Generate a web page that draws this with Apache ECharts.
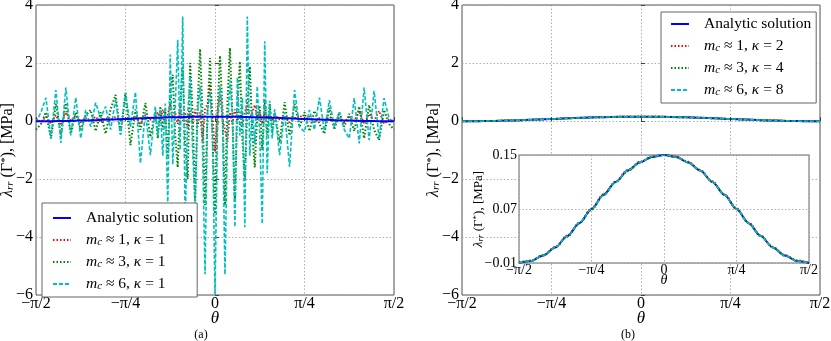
<!DOCTYPE html>
<html><head><meta charset="utf-8">
<script src="https://cdn.jsdelivr.net/npm/echarts@6/dist/echarts.min.js"></script>
<style>html,body{margin:0;padding:0;background:#fff}#c{width:831px;height:341px}</style>
</head><body><div id="c"></div>
<script>
// ---- data (theta in degrees; axis labels shown as multiples of pi) ----
const thetaA = [-90,-87.5,-85,-82.5,-80,-77.5,-75,-72.5,-70,-67.5,-65,-62.5,-60,-57.5,-55,-52.5,-50,-47.5,-45,-42.5,-40,-37.5,-35,-32.5,
  -30,-28.75,-27.5,-26.25,-25,-23.75,-22.5,-21.25,-20,-18.75,-17.5,-16.25,-15,-13.75,-12.5,-11.25,-10,-8.75,-7.5,-6.25,-5,-3.75,-2.5,-1.25,
  0,1.25,2.5,3.75,5,6.25,7.5,8.75,10,11.25,12.5,13.75,15,16.25,17.5,18.75,20,21.25,22.5,23.75,25,26.25,27.5,28.75,30,
  32.5,35,37.5,40,42.5,45,47.5,50,52.5,55,57.5,60,62.5,65,67.5,70,72.5,75,77.5,80,82.5,85,87.5,90];
const redA = [0.1,-0.05,0.15,-0.1,0.2,-0.15,0.3,0.0,0.2,-0.05,0.1,0.0,0.15,-0.05,0.12,0.0,0.15,0.02,0.1,0.05,0.15,-0.1,0.2,0.05,
  0.1,0.3,0.0,0.4,0.1,0.2,0.61,0.1,0.3,-0.1,0.55,0.0,0.3,-0.3,0.35,-0.1,0.4,-0.2,0.3,-0.72,0.4,0.6,1.27,0.2,
  -1.06,0.3,0.92,0.1,-0.3,-0.72,0.3,-0.1,0.4,0.0,0.3,-0.2,0.3,0.61,0.1,0.3,0.55,0.1,0.3,-0.1,0.3,0.1,0.2,0.0,0.2,
  0.05,0.15,-0.05,0.1,0.2,0.05,0.15,-0.05,0.1,0.0,0.15,0.0,0.1,-0.05,0.15,0.0,0.35,-0.1,0.25,0.0,0.35,-0.1,0.05,0.0];
const greenA = [-0.3,-0.1,0.3,-0.6,0.6,-0.48,0.62,-0.44,0.3,-0.3,0.2,0.38,-0.35,0.3,-0.44,0.4,0.9,-0.44,0.97,-0.83,0.4,-0.3,0.62,-0.55,
  0.3,-0.6,0.5,-0.3,0.4,-1.3,1.0,1.6,-0.5,-1.6,0.6,1.88,-0.8,-2.0,2.0,0.3,-2.85,0.5,2.48,0.2,-2.9,0.3,2.17,-0.5,
  -3.2,0.3,2.25,0.4,-2.9,0.6,2.52,0.2,-2.8,0.5,2.05,-0.6,-2.0,0.5,1.88,-0.4,-1.6,0.3,0.5,-1.0,0.75,-0.5,0.6,-0.4,0.3,
  -0.75,0.65,-0.5,0.6,-0.2,0.3,-0.35,0.35,-0.1,-0.44,0.45,-0.3,0.3,-0.2,0.25,-0.35,0.5,-0.6,0.55,-0.3,-0.66,0.38,-0.1,-0.3];
const cyanA = [-0.05,0.3,0.8,-0.6,1.07,-0.76,1.15,-0.5,0.81,-0.6,0.38,-0.2,0.63,0.1,0.5,-0.3,0.73,-0.48,0.96,-0.2,1.0,-1.46,0.3,-1.18,
  0.5,-0.5,0.4,-1.2,0.6,-2.9,2.29,-1.5,0.5,2.8,-1.0,3.6,-3.5,0.2,1.54,-1.0,-2.9,0.3,1.2,-1.0,-5.28,0.4,1.0,-0.5,
  -6.0,-0.3,1.2,0.3,-5.3,-0.5,1.4,0.2,-3.66,1.5,-0.5,0.8,-3.66,3.6,-1.2,0.4,-0.8,1.2,-0.5,-3.55,2.75,-1.8,0.7,-0.6,0.4,
  -1.18,0.3,-1.58,1.07,-0.2,-0.37,0.38,-0.3,0.81,-0.35,0.72,-0.2,0.3,-0.3,-0.6,0.79,-0.77,1.15,-0.66,1.04,-0.6,0.79,0.1,-0.1];

const thetaS = [-90,-82.5,-75,-67.5,-60,-52.5,-45,-37.5,-30,-22.5,-15,-7.5,0,7.5,15,22.5,30,37.5,45,52.5,60,67.5,75,82.5,90];
const analytic = [-0.010,-0.007,0.001,0.013,0.030,0.049,0.070,0.091,0.110,0.127,0.139,0.147,0.150,0.147,0.139,0.127,0.110,0.091,0.070,0.049,0.030,0.013,0.001,-0.007,-0.010];
const redB   = [-0.010,-0.006,0.001,0.014,0.031,0.050,0.071,0.092,0.111,0.128,0.140,0.148,0.151,0.148,0.139,0.128,0.110,0.092,0.070,0.050,0.031,0.013,0.002,-0.007,-0.010];
const greenB = [-0.009,-0.007,0.002,0.013,0.029,0.049,0.069,0.091,0.110,0.126,0.139,0.147,0.150,0.147,0.140,0.127,0.111,0.091,0.071,0.049,0.030,0.014,0.001,-0.006,-0.010];
const cyanB  = [-0.010,-0.007,0.001,0.013,0.030,0.050,0.070,0.090,0.110,0.127,0.139,0.148,0.150,0.147,0.139,0.127,0.110,0.091,0.070,0.049,0.030,0.013,0.001,-0.007,-0.010];

const xTicks = [-90,-45,0,45,90];
const xTickLabels = ['−π/2','−π/4','0','π/4','π/2'];
const insetYTicks = [-0.01,0.07,0.15];

// ---- chart ----
const serif = '"Liberation Serif","DejaVu Serif",serif';
const COL = {blue:'#0000ff', red:'#ff0000', green:'#008000', cyan:'#00bfbf'};
const pair = (xs, ys) => xs.map((x, i) => [x, ys[i]]);
const piFmt = v => { const k = xTicks.indexOf(v); return k < 0 ? '' : xTickLabels[k]; };
const minusFmt = v => v < 0 ? '−' + (-v) : String(v);
const insetFmt = v => (v < 0 ? '−' : '') + Math.abs(v).toFixed(2);
const splitLine = {show:true, lineStyle:{color:'#9a9a9a', width:0.8, type:[1.5,2]}};
const tick = {show:true, inside:true, length:4, lineStyle:{color:'#444', width:1}};

function richSet(fs){
  return {
    i:{fontFamily:serif, fontStyle:'italic', fontSize:fs, color:'#000'},
    s:{fontFamily:serif, fontStyle:'italic', fontSize:Math.round(fs*0.68), color:'#000', verticalAlign:'bottom', lineHeight:4},
    p:{fontFamily:serif, fontSize:Math.round(fs*0.68), color:'#000', verticalAlign:'top', lineHeight:4},
    g:{width:10}
  };
}
const yName = '{i|λ}{s|rr} (Γ{p|*}), [MPa]';

function mainX(gi){
  return {type:'value', gridIndex:gi, min:-90, max:90, interval:45,
    axisLine:{show:false}, axisTick:tick, splitLine:splitLine,
    axisLabel:{formatter:piFmt, fontFamily:serif, fontSize:16, color:'#000', margin:1},
    name:'θ', nameLocation:'middle', nameGap:15, nameMoveOverlap:false,
    nameTextStyle:{fontFamily:serif, fontStyle:'italic', fontSize:17, color:'#000'}};
}
function mainY(gi){
  return {type:'value', gridIndex:gi, min:-6, max:4, interval:2,
    axisLine:{show:false}, axisTick:tick, splitLine:splitLine,
    axisLabel:{formatter:minusFmt, fontFamily:serif, fontSize:16, color:'#000', margin:3},
    name:yName, nameLocation:'middle', nameRotate:90, nameGap:20, nameMoveOverlap:false,
    nameTextStyle:{fontFamily:serif, fontSize:16, color:'#000', rich:richSet(16)}};
}

const legendNames = {
  aAn:'{g| }Analytic solution', aR:'{g| }{i|m}{s|c} ≈ 1, {i|κ} = 1', aG:'{g| }{i|m}{s|c} ≈ 3, {i|κ} = 1', aC:'{g| }{i|m}{s|c} ≈ 6, {i|κ} = 1',
  bAn:'{g| }Analytic solution', bR:'{g| }{i|m}{s|c} ≈ 1, {i|κ} = 2', bG:'{g| }{i|m}{s|c} ≈ 3, {i|κ} = 4', bC:'{g| }{i|m}{s|c} ≈ 6, {i|κ} = 8'
};
const legendBase = {orient:'vertical', itemWidth:18, itemHeight:14, itemGap:6, selectedMode:false,
  backgroundColor:'#fff', borderColor:'#666', borderWidth:1, borderRadius:0,
  itemStyle:{opacity:0, borderWidth:0},
  formatter: n => legendNames[n],
  textStyle:{fontFamily:serif, fontSize:15.5, color:'#000', rich:richSet(15.5)}};

const styles = {
  An:{color:COL.blue, width:2, type:'solid'},
  R:{color:COL.red, width:1.8, type:[1.5,2]},
  G:{color:COL.green, width:2, type:[1.5,2]},
  C:{color:COL.cyan, width:1.6, type:[4,2]}
};
function line(name, gi, data, st, z, smooth){
  return {name, type:'line', xAxisIndex:gi, yAxisIndex:gi, data, symbol:'none', showSymbol:false,
    lineStyle:st, itemStyle:{color:st.color}, z:z, smooth:smooth?0.3:false, smoothMonotone:'x',
    animation:false, clip:true};
}

const option = {
  animation:false,
  backgroundColor:'#fff',
  grid:[
    {left:36, top:5, width:358, height:290, show:true, borderColor:'#555', borderWidth:1, backgroundColor:'transparent', outerBoundsMode:'none', containLabel:false},
    {left:462, top:5, width:358, height:290, show:true, borderColor:'#555', borderWidth:1, backgroundColor:'transparent', outerBoundsMode:'none', containLabel:false},
    {left:519, top:155, width:290, height:108, show:true, borderColor:'#9a9a9a', borderWidth:1.5, backgroundColor:'#fff', z:10, outerBoundsMode:'none', containLabel:false}
  ],
  xAxis:[ mainX(0), mainX(1),
    {type:'value', gridIndex:2, min:-90, max:90, interval:45, z:11,
     axisLine:{show:false}, axisTick:{show:false}, splitLine:splitLine,
     axisLabel:{formatter:piFmt, fontFamily:serif, fontSize:14, color:'#000', margin:0},
     name:'θ', nameLocation:'middle', nameGap:10, nameMoveOverlap:false,
     nameTextStyle:{fontFamily:serif, fontStyle:'italic', fontSize:14, color:'#000'}}
  ],
  yAxis:[ mainY(0), mainY(1),
    {type:'value', gridIndex:2, min:-0.01, max:0.15, z:11,
     axisLine:{show:false},
     axisTick:{show:false, customValues:insetYTicks},
     splitLine:splitLine,
     axisLabel:{customValues:insetYTicks, formatter:insetFmt, fontFamily:serif, fontSize:14, color:'#000', margin:2},
     name:yName, nameLocation:'middle', nameRotate:90, nameGap:34, nameMoveOverlap:false,
     nameTextStyle:{fontFamily:serif, fontSize:13, color:'#000', rich:richSet(13)}}
  ],
  legend:[
    Object.assign({}, legendBase, {data:['aAn','aR','aG','aC'], left:42, top:203, padding:[7,4,5,10]}),
    Object.assign({}, legendBase, {data:['bAn','bR','bG','bC'], left:661, top:12, padding:[4,5,5,9]})
  ],
  graphic:[
    {type:'text', x:201, y:335, style:{text:'(a)', fontFamily:serif, fontSize:12, fill:'#000', align:'center', verticalAlign:'middle'}},
    {type:'text', x:628, y:335, style:{text:'(b)', fontFamily:serif, fontSize:12, fill:'#000', align:'center', verticalAlign:'middle'}}
  ],
  series:[
    line('aR', 0, pair(thetaA, redA), styles.R, 3),
    line('aG', 0, pair(thetaA, greenA), styles.G, 3),
    line('aC', 0, pair(thetaA, cyanA), styles.C, 3),
    line('aAn', 0, pair(thetaS, analytic), styles.An, 4, true),
    line('bAn', 1, pair(thetaS, analytic), styles.An, 2, true),
    line('bR', 1, pair(thetaS, redB), styles.R, 3, true),
    line('bG', 1, pair(thetaS, greenB), styles.G, 3, true),
    line('bC', 1, pair(thetaS, cyanB), styles.C, 3, true),
    line('iAn', 2, pair(thetaS, analytic), styles.An, 12, true),
    line('iR', 2, pair(thetaS, redB), styles.R, 12, true),
    line('iG', 2, pair(thetaS, greenB), styles.G, 12, true),
    line('iC', 2, pair(thetaS, cyanB), styles.C, 12, true)
  ]
};
const chart = echarts.init(document.getElementById('c'), null, {renderer:'canvas'});
chart.setOption(option);
</script>
</body></html>
